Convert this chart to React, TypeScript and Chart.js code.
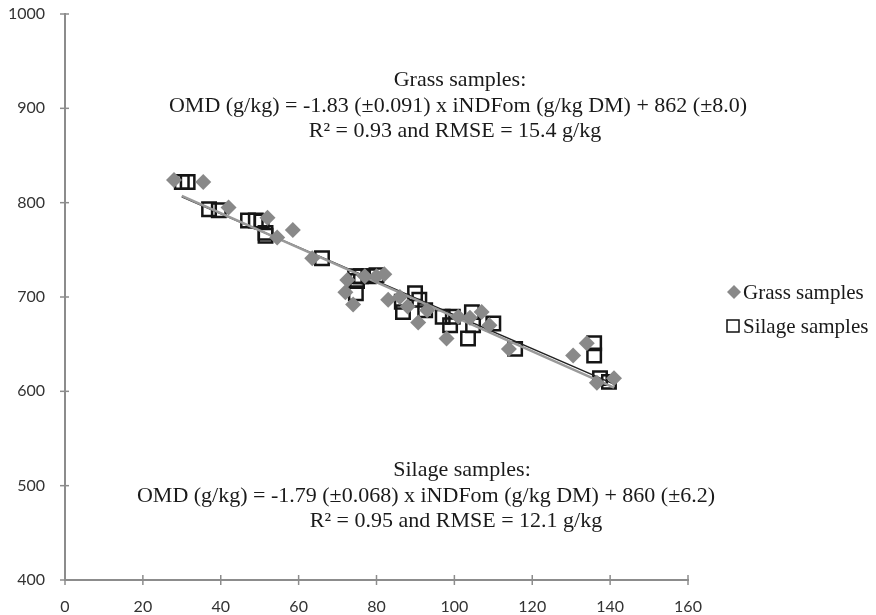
import React, { useEffect, useRef } from "react";
import { Chart, registerables } from "chart.js";

Chart.register(...registerables);

const grassX = [28, 35.5, 42, 52, 58.5, 54.5, 63.5, 72.5, 72, 74, 77, 80, 82, 83, 86, 88, 90.7, 93, 98, 101, 104, 107, 109, 114, 130.5, 134, 136.6, 141];
const grassY = [824, 822, 795, 784, 771, 763, 741, 718, 705, 692, 722, 722, 724, 697, 700, 690, 673, 686, 656, 679, 678, 684, 670, 645, 638, 651, 609, 614];

const silageX = [30, 31.5, 37, 39.5, 47, 49, 50.5, 51.5, 51.5, 66, 74.5, 76, 78, 80, 75, 74.7, 86.5, 89.9, 91, 86.8, 92.5, 97, 99.6, 98.9, 104.5, 104.8, 103.5, 110, 115.6, 135.9, 135.9, 137.4, 139.7];
const silageY = [822, 822, 793, 792, 781, 781, 780, 768, 765, 741, 722, 722, 722, 723, 717, 704, 695, 704, 697, 684, 686, 679, 679, 670, 684, 670, 656, 672, 645, 651, 638, 614, 610];

const fitX = [30, 141];
const grassFitY = [807.1, 603.97];
const silageFitY = [806.3, 607.6];

const xTicks = [0, 20, 40, 60, 80, 100, 120, 140, 160];
const yTicks = [400, 500, 600, 700, 800, 900, 1000];

const legendLabels = ["Grass samples", "Silage samples"];
const grassText = ["Grass samples:", "OMD (g/kg) = -1.83 (\u00b10.091) x iNDFom (g/kg DM) + 862 (\u00b18.0)", "R\u00b2 = 0.93 and RMSE = 15.4 g/kg"];
const silageText = ["Silage samples:", "OMD (g/kg) = -1.79 (\u00b10.068) x iNDFom (g/kg DM) + 860 (\u00b16.2)", "R\u00b2 = 0.95 and RMSE = 12.1 g/kg"];

const GRAY = "#898989";
const AXIS = "#8c8c8c";
const SERIF = "'Liberation Serif', 'Times New Roman', serif";
const SANS = "Lato, 'Open Sans', sans-serif";

const pts = (xs: number[], ys: number[]) => xs.map((x, i) => ({ x, y: ys[i] }));

export default function App() {
  const ref = useRef<HTMLCanvasElement | null>(null);
  useEffect(() => {
    if (!ref.current) return;
    const tickCross = {
      id: "tickCross",
      afterDraw(chart: any) {
        const ctx = chart.ctx;
        const xs = chart.scales.x;
        const ys = chart.scales.y;
        const a = chart.chartArea;
        ctx.save();
        ctx.strokeStyle = AXIS;
        ctx.lineWidth = 1.5;
        xTicks.forEach((v) => {
          const px = xs.getPixelForValue(v);
          ctx.beginPath();
          ctx.moveTo(px, a.bottom - 5);
          ctx.lineTo(px, a.bottom + 5);
          ctx.stroke();
        });
        yTicks.forEach((v) => {
          const py = ys.getPixelForValue(v);
          ctx.beginPath();
          ctx.moveTo(a.left - 5, py);
          ctx.lineTo(a.left + 4, py);
          ctx.stroke();
        });
        // annotations
        ctx.fillStyle = "#1a1a1a";
        ctx.font = `22px ${SERIF}`;
        ctx.textAlign = "center";
        ctx.textBaseline = "middle";
        const gc = [460, 458, 455];
        const gy = [80, 106, 131];
        grassText.forEach((t, i) => ctx.fillText(t, gc[i], gy[i]));
        const sc = [462, 426, 456];
        const sy = [470, 496, 521];
        silageText.forEach((t, i) => ctx.fillText(t, sc[i], sy[i]));
        // legend
        ctx.textAlign = "left";
        ctx.font = `21px ${SERIF}`;
        ctx.fillStyle = GRAY;
        ctx.beginPath();
        ctx.moveTo(734, 285);
        ctx.lineTo(741, 292);
        ctx.lineTo(734, 299);
        ctx.lineTo(727, 292);
        ctx.closePath();
        ctx.fill();
        ctx.fillStyle = "#1a1a1a";
        ctx.fillText(legendLabels[0], 743, 293);
        ctx.strokeStyle = "#111";
        ctx.lineWidth = 1.5;
        ctx.strokeRect(727, 320, 12, 12);
        ctx.fillText(legendLabels[1], 743, 327);
        ctx.restore();
      },
    };
    const chart = new Chart(ref.current, {
      type: "scatter",
      data: {
        datasets: [
          {
            label: "Grass samples",
            data: pts(grassX, grassY),
            pointStyle: "rectRot",
            pointRadius: 8,
            backgroundColor: GRAY,
            borderColor: GRAY,
            borderWidth: 0,
          },
          {
            type: "line",
            label: "Grass fit",
            data: pts(fitX, grassFitY),
            borderColor: "#9a9a9a",
            borderWidth: 2.5,
            pointRadius: 0,
            fill: false,
          },
          {
            type: "line",
            label: "Silage fit",
            data: pts(fitX, silageFitY),
            borderColor: "#222",
            borderWidth: 1.5,
            pointRadius: 0,
            fill: false,
          },
          {
            label: "Silage samples",
            data: pts(silageX, silageY),
            pointStyle: "rect",
            pointRadius: 9.5,
            backgroundColor: "rgba(0,0,0,0)",
            borderColor: "#151515",
            borderWidth: 2.5,
          },
        ],
      },
      options: {
        animation: false,
        responsive: false,
        layout: { padding: { left: 0, right: 188, top: 14, bottom: 0 } },
        plugins: { legend: { display: false }, tooltip: { enabled: false } },
        scales: {
          x: {
            type: "linear",
            min: 0,
            max: 160,
            afterBuildTicks: (s: any) => {
              s.ticks = xTicks.map((v) => ({ value: v }));
            },
            afterFit: (s: any) => {
              s.height = 35;
              s.paddingLeft = 0;
              s.paddingRight = 0;
            },
            grid: { display: false },
            border: { display: true, color: AXIS, width: 2 },
            ticks: { color: "#333", font: { family: SANS, size: 16 }, padding: 9, callback: (v: any) => String(v) },
          },
          y: {
            type: "linear",
            min: 400,
            max: 1000,
            afterBuildTicks: (s: any) => {
              s.ticks = yTicks.map((v) => ({ value: v }));
            },
            afterFit: (s: any) => {
              s.width = 65;
              s.paddingTop = 0;
              s.paddingBottom = 0;
            },
            grid: { display: false },
            border: { display: true, color: AXIS, width: 2 },
            ticks: { color: "#333", font: { family: SANS, size: 16 }, padding: 12, callback: (v: any) => String(v) },
          },
        },
      },
      plugins: [tickCross],
    } as any);
    return () => chart.destroy();
  }, []);
  return (
    <div style={{ position: "fixed", left: 0, top: 0, width: 876, height: 615, background: "#fff" }}>
      <canvas ref={ref} width={876} height={615} style={{ width: 876, height: 615 }} />
    </div>
  );
}
